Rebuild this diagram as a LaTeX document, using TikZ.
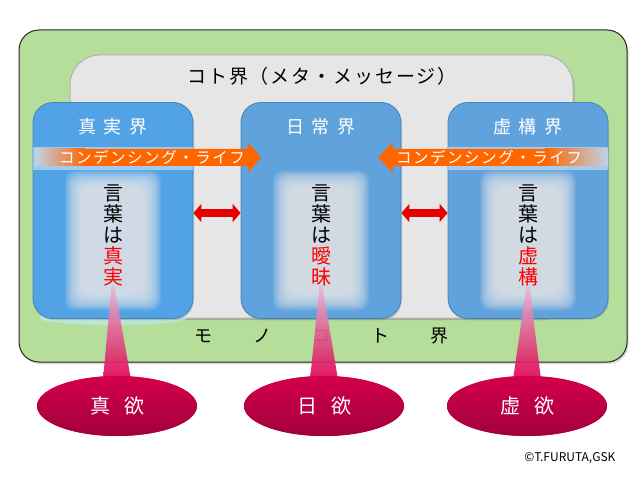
\documentclass[tikz,border=0pt]{standalone}
\usepackage{fontspec}
\setmainfont{Noto Sans CJK JP}
\newfontfamily\jpspaced[LetterSpace=10]{Noto Sans CJK JP}
\usepackage{tikz}
\usetikzlibrary{arrows.meta,positioning,calc,shapes.geometric,shadows}
\definecolor{monogreen}{HTML}{B5DE9B}
\definecolor{kotogrey}{HTML}{E6E6E6}
\definecolor{worldblue}{HTML}{60A2DC}
\definecolor{truthblue}{HTML}{52A2E6}
\definecolor{worldedge}{HTML}{4583BC}
\definecolor{glow}{HTML}{E6E6EA}
\definecolor{band}{HTML}{BDD4EA}
\definecolor{lifeorange}{HTML}{FF6600}
\definecolor{wordred}{HTML}{FF0000}
\definecolor{arrowred}{HTML}{E60000}
\definecolor{desire}{HTML}{D4004C}
\definecolor{desiredark}{HTML}{A2003A}
\definecolor{spiketop}{HTML}{E2BCD8}
\definecolor{spikemid}{HTML}{E9558F}
\definecolor{spikebot}{HTML}{E0004F}
\tikzset{monobox/.style={rounded corners=20pt,draw=black!85,line width=1pt,fill=monogreen,
    minimum width=608pt,minimum height=332pt,drop shadow={opacity=.3,shadow xshift=1.5pt,shadow yshift=-2pt}},
  kotobox/.style={rounded corners=30pt,draw=gray!60,line width=1pt,fill=kotogrey,
    minimum width=503pt,minimum height=263pt,drop shadow={opacity=.45,shadow xshift=1.5pt,shadow yshift=-2pt}},
  world/.style={rounded corners=20pt,draw=worldedge,line width=.8pt,fill=worldblue,inner sep=0pt,
    minimum width=160pt,minimum height=216pt,drop shadow={opacity=.3,shadow xshift=1pt,shadow yshift=-1.5pt}},
  worldtitle/.style={text=white,font=\fontsize{18}{20}\selectfont},
  lifetext/.style={text=white,inner sep=0pt,font=\jpspaced\fontsize{15.5}{17}\selectfont},
  vword/.style={align=center,inner sep=0pt,font=\fontsize{20}{21}\selectfont},
  relarrow/.style={line width=8pt,draw=arrowred,{Triangle[length=8pt,width=18pt]}-{Triangle[length=8pt,width=18pt]}},
  spike/.style={top color=spiketop,middle color=spikemid,bottom color=spikebot,opacity=.92},
  yoku/.style={ellipse,inner sep=0pt,minimum width=160pt,minimum height=60pt,top color=desire,
    bottom color=desiredark,text=white,font=\fontsize{20}{22}\selectfont}}

\begin{document}
\begin{tikzpicture}[x=1pt,y=1pt]
\fill[white] (0,0) rectangle (640,480);
\useasboundingbox (0,0) rectangle (640,480);
% frames
\node[monobox] (mono) at (323,284) {};
\node[kotobox] (koto) at (321.5,293.5) {};
\node[font=\jpspaced\fontsize{19}{21}\selectfont] (kototitle) at (322,404) {コト界（メタ・メッセージ）};
\fill[cyan!25!white,opacity=.6] (113,162) ellipse (74pt and 7pt);
\node[world,fill=truthblue] (shin) at (113,269.5) {};
\node[world] (nichi) at (321,269.5) {};
\node[world] (kyo) at (528,269.5) {};
% soft glow behind the words
\foreach \w in {shin,nichi,kyo}{
  \foreach \i in {0,...,15}{
    \fill[glow,opacity=.12,rounded corners=10pt] ($(\w.center)+(-48+1.15*\i,-100+1.15*\i)$) rectangle ($(\w.center)+(48-1.15*\i,40-1.15*\i)$);
  }
}
\fill[white,opacity=.45] ($(shin.west)+(0,40.5)$) rectangle ($(shin.east)+(0,63.5)$);
\fill[white,opacity=.45] ($(kyo.west)+(0,40.5)$) rectangle ($(kyo.east)+(0,63.5)$);
\node[worldtitle] (shintitle) at (113,353) {真\hspace{8pt}実\hspace{8pt}界};
\node[worldtitle] (nichititle) at (321,353) {日\hspace{8pt}常\hspace{8pt}界};
\node[worldtitle] (kyotitle) at (528,353) {虚\hspace{8pt}構\hspace{8pt}界};
% condensing life
\shade[left color=band,right color=lifeorange] (35,314) rectangle (85,331);
\fill[lifeorange] (84.5,314) -- (248,314) -- (248,307) -- (261,322.5) -- (248,338) -- (248,331) -- (84.5,331) -- cycle;
\shade[left color=lifeorange,right color=band] (545,314) rectangle (608,331);
\fill[lifeorange] (545.5,314) -- (393,314) -- (393,307) -- (378,322.5) -- (393,338) -- (393,331) -- (545.5,331) -- cycle;
\node[lifetext] (lifeL) at (152,322.5) {コンデンシング・ライフ};
\node[lifetext] (lifeR) at (489,322.5) {コンデンシング・ライフ};
% words
\node[vword] (shinword) at (113,244.5) {言\\葉\\は\\\textcolor{wordred}{真}\\\textcolor{wordred}{実}};
\node[vword] (nichiword) at (321,244.5) {言\\葉\\は\\\textcolor{wordred}{曖}\\\textcolor{wordred}{昧}};
\node[vword] (kyoword) at (528,244.5) {言\\葉\\は\\\textcolor{wordred}{虚}\\\textcolor{wordred}{構}};
\draw[relarrow] ([yshift=-2.5pt]shin.east) -- ([yshift=-2.5pt]nichi.west);
\draw[relarrow] ([yshift=-2.5pt]nichi.east) -- ([yshift=-2.5pt]kyo.west);
\node[font=\fontsize{18}{20}\selectfont] (monotitle) at (321.5,144) {モ\hspace{41pt}ノ\hspace{41pt}コ\hspace{41pt}ト\hspace{41pt}界};
% desires
\node[yoku] (shinyoku) at (117,74) {真\hspace{14pt}欲};
\node[yoku] (nichiyoku) at (324,74) {日\hspace{14pt}欲};
\node[yoku] (kyoyoku) at (527,74) {虚\hspace{14pt}欲};
\foreach \w in {shin,nichi,kyo}{
  \shade[spike] ([xshift=-1.5pt]\w word.south) -- ([xshift=1.5pt]\w word.south) -- ([xshift=14pt,yshift=-4pt]\w yoku.north) -- ([xshift=-14pt,yshift=-4pt]\w yoku.north) -- cycle;
}
\node[yoku] at (shinyoku) {真\hspace{14pt}欲};
\node[yoku] at (nichiyoku) {日\hspace{14pt}欲};
\node[yoku] at (kyoyoku) {虚\hspace{14pt}欲};
\node[anchor=east,font=\fontsize{12}{14}\selectfont] (credit) at (619,22) {©T.FURUTA,GSK};
\end{tikzpicture}
\end{document}
